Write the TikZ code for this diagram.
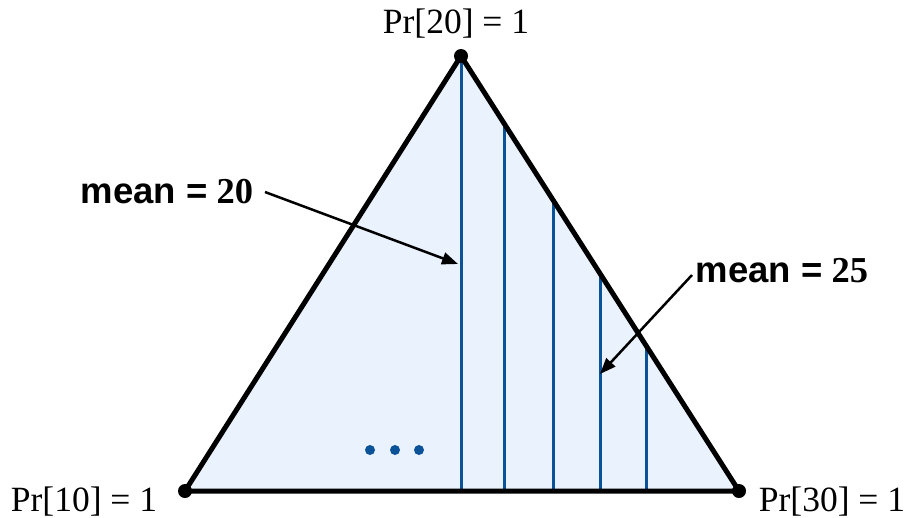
\documentclass[tikz,border=0pt]{standalone}
\usepackage{fontspec}
\setmainfont{Liberation Serif}
\newfontfamily\lsans{Liberation Sans}
\usetikzlibrary{arrows.meta,calc}
\definecolor{fillblue}{HTML}{EAF2FD}
\definecolor{lineblue}{HTML}{0B5399}
\begin{document}
\begin{tikzpicture}[x=1pt,y=-1pt,
  edge/.style={line width=5pt,line join=round},
  vert/.style={circle,fill=black,inner sep=0pt,minimum size=14pt},
  slice/.style={lineblue,line width=3pt},
  dotb/.style={circle,fill=lineblue,inner sep=0pt,minimum size=10pt},
  prlab/.style={font=\fontsize{35.5}{40}\selectfont,anchor=base,inner sep=0pt},
  meanlab/.style={font=\fontsize{36.5}{42}\selectfont\bfseries,anchor=base,inner sep=0pt},
  pointer/.style={line width=2.5pt,-{Triangle[length=16pt,width=12pt]}}]
\useasboundingbox (0,0) rectangle (912,517);
\coordinate (T) at (461,56);
\coordinate (L) at (185,491);
\coordinate (R) at (739,491);
\fill[fillblue] (T) -- (L) -- (R) -- cycle;
% slices
\foreach \n/\t in {a/0.0, b/0.156, c/0.332, d/0.502, e/0.668}{
  \coordinate (s\n) at ($(T)!\t!(R)$);
  \coordinate (b\n) at (s\n |- L);
  \draw[slice] (s\n) -- (b\n);
}
\draw[edge] (T) -- (L) -- (R) -- cycle;
\node[vert] (vT) at (T) {};
\node[vert] (vL) at (L) {};
\node[vert] (vR) at (R) {};
\node[dotb] (d1) at (370,450) {};
\node[dotb] (d2) at (395,450) {};
\node[dotb] (d3) at (419,450) {};
\node[prlab] (p20) at (456,33) {Pr[20] = 1};
\node[prlab] (p10) at (84,511) {Pr[10] = 1};
\node[prlab] (p30) at (832,511) {Pr[30] = 1};
\node[meanlab] (m20) at (167,203) {{\lsans mean =} 20};
\node[meanlab] (m25) at (782,282) {{\lsans mean =} 25};
\coordinate (m20s) at (265,192);
\coordinate (m20e) at (458,264);
\coordinate (m25s) at (692,275);
\coordinate (m25e) at (600,374);
\draw[pointer] (m20s) -- (m20e);
\draw[pointer] (m25s) -- (m25e);
\end{tikzpicture}
\end{document}
